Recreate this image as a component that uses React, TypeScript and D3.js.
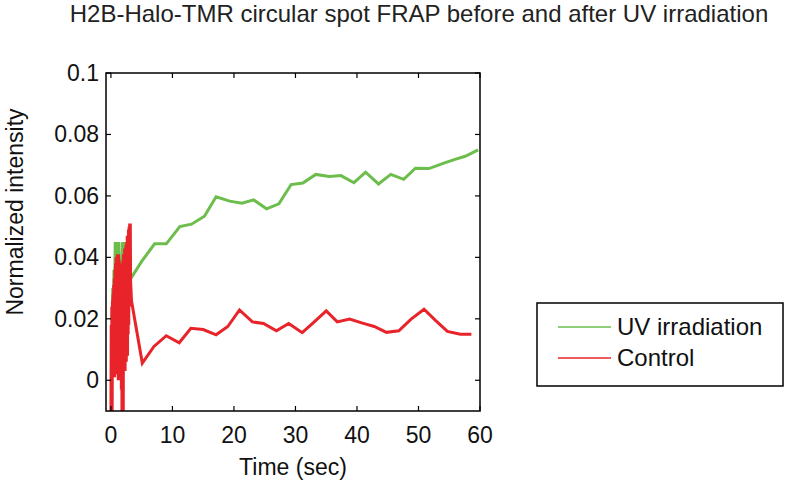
import React from 'react';
import * as d3 from 'd3';

// time (sec) and normalized intensity
const uvTime = [
  0.2, 0.3, 0.4, 0.5, 0.6, 0.7, 0.8, 0.9, 1.0, 1.1, 1.2, 1.3, 1.4, 1.5, 1.6,
  1.7, 1.8, 1.9, 2.0, 2.1, 2.2, 2.3, 2.4, 2.5, 2.6, 2.7, 2.8, 2.9, 3.0, 3.1, 3.2,
  5.0, 7.1, 9.0, 11.2, 13.1, 15.2, 17.1, 19.3, 21.3, 23.2, 25.3, 27.3, 29.3, 31.2,
  33.3, 35.5, 37.4, 39.5, 41.4, 43.5, 45.5, 47.6, 49.5, 51.7, 53.9, 55.8, 57.6, 59.7,
];
const uvValue = [
  0.020, 0.030, 0.024, 0.036, 0.030, 0.045, 0.035, 0.045, 0.034, 0.044,
  0.036, 0.045, 0.033, 0.040, 0.032, 0.038, 0.034, 0.045, 0.033, 0.045, 0.035, 0.042,
  0.034, 0.040, 0.036, 0.041, 0.035, 0.040, 0.034, 0.036, 0.033,
  0.0387, 0.0444, 0.0444, 0.0500, 0.0508, 0.0534, 0.0597, 0.0583, 0.0576, 0.0587,
  0.0558, 0.0574, 0.0637, 0.0642, 0.0670, 0.0663, 0.0666, 0.0643, 0.0677, 0.0639,
  0.0670, 0.0654, 0.0690, 0.0689, 0.0705, 0.0718, 0.0729, 0.0750,
];

const ctrlTime = [
  0.00, 0.05, 0.10, 0.15, 0.20, 0.25, 0.30, 0.35, 0.40, 0.45, 0.50, 0.55, 0.60,
  0.65, 0.70, 0.75, 0.80, 0.85, 0.90, 0.95, 1.00, 1.05, 1.10, 1.15, 1.20, 1.25,
  1.30, 1.35, 1.40, 1.45, 1.50, 1.55, 1.60, 1.65, 1.70, 1.75, 1.80, 1.85, 1.90,
  1.95, 2.00, 2.05, 2.10, 2.15, 2.20, 2.25, 2.30, 2.35, 2.40, 2.45, 2.50, 2.55,
  2.60, 2.65, 2.70, 2.75, 2.80, 2.85, 2.90, 2.95, 3.00, 3.05, 3.10, 3.15, 3.20,
  3.35, 5.1, 7.0, 9.0, 11.1, 13.0, 15.0, 17.1, 19.0, 20.9, 23.0, 24.8, 26.9, 28.9,
  31.1, 33.1, 35.0, 36.8, 38.8, 40.9, 42.8, 44.8, 46.8, 48.8, 50.9, 52.8, 54.7, 56.8, 58.6,
];
const ctrlValue = [
  -0.015, 0.018, -0.018, 0.024, -0.012, 0.026, 0.004, 0.028, 0.002, 0.031, 0.006, 0.033, 0.001,
  0.036, 0.009, 0.038, 0.004, 0.040, 0.010, 0.039, 0.002, 0.041, 0.006, 0.040, 0.000, 0.041,
  0.008, 0.039, 0.003, 0.037, 0.001, 0.036, 0.005, 0.034, -0.003, 0.036, -0.016, 0.038, -0.022,
  0.039, -0.018, 0.041, 0.004, 0.040, 0.007, 0.043, 0.003, 0.042, 0.010, 0.044, 0.006, 0.045,
  0.012, 0.047, 0.008, 0.046, 0.015, 0.049, 0.018, 0.050, 0.024, 0.051, 0.028, 0.051, 0.032,
  0.0258, 0.0056, 0.0110, 0.0145, 0.0122, 0.0169, 0.0165, 0.0148, 0.0175, 0.0229,
  0.0190, 0.0185, 0.0161, 0.0185, 0.0155, 0.0191, 0.0226, 0.0190, 0.0199, 0.0186,
  0.0175, 0.0156, 0.0161, 0.0199, 0.0231, 0.0194, 0.0159, 0.0150, 0.0150,
];

const xTicks = [0, 10, 20, 30, 40, 50, 60];
const yTicks = [0, 0.02, 0.04, 0.06, 0.08, 0.1];
const yTickLabels = ['0', '0.02', '0.04', '0.06', '0.08', '0.1'];

const seriesNames = ['UV irradiation', 'Control'];
const seriesColors = ['#6cbd4c', '#e8232a'];

const FONT = 'Liberation Sans, Arial, sans-serif';

const App = () => {
  const W = 792, H = 492;
  const margin = { left: 106, right: 312, top: 73, bottom: 81 };
  const pw = W - margin.left - margin.right;
  const ph = H - margin.top - margin.bottom;

  const x = d3.scaleLinear().domain([-0.8, 60]).range([0, pw]);
  const y = d3.scaleLinear().domain([-0.01, 0.1]).range([ph, 0]);

  const line = d3.line<[number, number]>()
    .x(d => x(d[0]))
    .y(d => y(d[1]));

  const uvPts = uvTime.map((t, i) => [t, uvValue[i]] as [number, number]);
  const ctrlPts = ctrlTime.map((t, i) => [t, ctrlValue[i]] as [number, number]);

  const tick = 5;

  return (
    <svg width={W} height={H} style={{ position: 'absolute', left: 0, top: 0, background: '#fff' }}
      fontFamily={FONT}>
      <defs>
        <clipPath id="plotClip">
          <rect x={0} y={0} width={pw} height={ph} />
        </clipPath>
      </defs>
      <text x={419} y={22} fontSize={24} textAnchor="middle" fill="#222">
        H2B-Halo-TMR circular spot FRAP before and after UV irradiation
      </text>
      <g transform={`translate(${margin.left},${margin.top})`}>
        <g clipPath="url(#plotClip)">
          <path d={line(uvPts) || ''} fill="none" stroke={seriesColors[0]} strokeWidth={3} />
          <path d={line(ctrlPts) || ''} fill="none" stroke={seriesColors[1]} strokeWidth={3} />
        </g>
        <rect x={0} y={0} width={pw} height={ph} fill="none" stroke="#000" strokeWidth={1.5} />
        {xTicks.map(t => (
          <g key={'x' + t}>
            <line x1={x(t)} x2={x(t)} y1={ph} y2={ph - tick} stroke="#000" strokeWidth={1.2} />
            <line x1={x(t)} x2={x(t)} y1={0} y2={tick} stroke="#000" strokeWidth={1.2} />
            <text x={x(t)} y={ph + 32} fontSize={23} textAnchor="middle" fill="#111">{t}</text>
          </g>
        ))}
        {yTicks.map((t, i) => (
          <g key={'y' + t}>
            <line x1={0} x2={tick} y1={y(t)} y2={y(t)} stroke="#000" strokeWidth={1.2} />
            <line x1={pw} x2={pw - tick} y1={y(t)} y2={y(t)} stroke="#000" strokeWidth={1.2} />
            <text x={-7} y={y(t) + 8} fontSize={23} textAnchor="end" fill="#111">{yTickLabels[i]}</text>
          </g>
        ))}
        <text x={pw / 2} y={ph + 64} fontSize={23} textAnchor="middle" fill="#111">Time (sec)</text>
        <text transform={`translate(${-83},${ph / 2 - 30}) rotate(-90)`} fontSize={23}
          textAnchor="middle" fill="#111">Normalized intensity</text>
      </g>
      <g transform="translate(537,303)">
        <rect x={0} y={0} width={246} height={83} fill="#fff" stroke="#000" strokeWidth={1.5} />
        {seriesNames.map((name, i) => (
          <g key={name} transform={`translate(0,${24 + i * 31})`}>
            <line x1={21} x2={74} y1={0} y2={0} stroke={seriesColors[i]} strokeWidth={1.5} />
            <text x={80} y={8} fontSize={24} fill="#111">{name}</text>
          </g>
        ))}
      </g>
    </svg>
  );
};

export default App;
